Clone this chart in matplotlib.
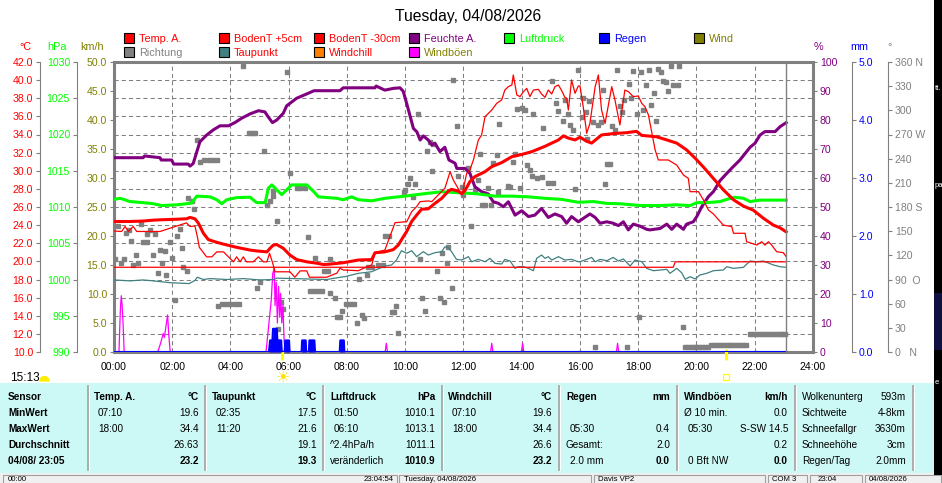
import numpy as np
import matplotlib
matplotlib.use("Agg")
import matplotlib.pyplot as plt
from matplotlib.patches import Rectangle, Wedge
import matplotlib.transforms as mtrans

plt.rcParams['font.family'] = ['Liberation Sans', 'DejaVu Sans']
plt.rcParams['lines.scale_dashes'] = False

# ---------------- data ----------------
title = "Tuesday, 04/08/2026"
now_t = 23 + 5 / 60
sunrise_t = 5 + 47 / 60
sunset_t = 21.0
day_length = "15:13"

hour_ticks = list(range(0, 25, 2))
hour_labels = ["%02d:00" % h for h in hour_ticks]

temp_ticks = list(range(10, 43, 2))
pres_ticks = list(range(990, 1031, 5))
kmh_ticks = list(range(0, 51, 5))
hum_ticks = list(range(0, 101, 10))
mm_ticks = [0, 1, 2, 3, 4, 5]
deg_ticks = list(range(0, 361, 30))
deg_labels = ["0   N", "30", "60", "90  O", "120", "150", "180 S", "210", "240",
              "270 W", "300", "330", "360 N"]

temp_t = [0, 0.55, 1.0, 1.35, 1.70, 2.15, 2.49, 2.61, 2.78, 2.90,
          3.07, 3.24, 3.53, 3.76, 4.21, 4.67, 4.90, 5.25, 5.36, 5.47,
          5.59, 5.81, 6.04, 6.27, 6.62, 6.96, 7.20, 7.42, 7.87, 8.39,
          8.85, 8.96, 9.30, 9.59, 9.76, 9.93, 10.05, 10.22, 10.39, 10.56,
          10.79, 11.02, 11.25, 11.48, 11.59, 11.82, 11.94, 12.05, 12.22, 12.39,
          12.74, 12.97, 13.31, 13.66, 14.00, 14.34, 14.80, 15.26, 15.43, 15.60,
          15.83, 16.00, 16.23, 16.40, 16.57, 16.74, 17.14, 17.60, 17.94, 18.12,
          18.63, 18.98, 19.32, 19.66, 19.95, 20.24, 20.58, 20.92, 21.27, 21.61,
          21.95, 22.30, 22.64, 22.87, 23.08]
temp_v = [24.4, 24.4, 24.45, 24.55, 24.6, 24.65, 24.7, 24.85, 24.7, 24.2,
          23.1, 22.4, 22.1, 21.9, 21.55, 21.25, 21.15, 21.05, 21.45, 21.8,
          21.85, 21.45, 20.7, 20.2, 19.95, 19.8, 19.65, 19.7, 19.85, 20.15,
          20.2, 20.95, 21.05, 21.3, 21.8, 22.7, 23.3, 24.4, 25.1, 25.75,
          25.8, 26.4, 26.95, 27.75, 27.95, 27.75, 27.45, 27.8, 28.8, 29.35,
          29.9, 30.45, 30.9, 31.55, 31.8, 32.1, 32.7, 33.4, 33.85, 33.6,
          33.4, 33.7, 33.25, 33.05, 33.5, 33.95, 34.1, 34.2, 34.35, 33.9,
          33.75, 33.4, 33.05, 32.3, 31.4, 30.4, 29.15, 27.9, 26.8, 26.1,
          25.65, 24.75, 24.0, 23.7, 23.25]

soil5_t = [0, 0.26, 0.38, 0.49, 0.66, 0.78, 1.58, 2.15, 2.49, 2.61,
           2.78, 2.86, 2.93, 3.18, 3.36, 3.53, 3.76, 3.93, 4.10, 4.21,
           4.33, 4.44, 4.55, 4.78, 4.96, 5.13, 5.25, 5.34, 5.45, 5.53,
           6.04, 6.21, 6.39, 6.62, 6.71, 7.30, 7.65, 7.76, 7.87, 8.39,
           8.56, 8.85, 8.96, 9.30, 9.65, 10.05, 10.22, 10.39, 10.51, 10.79,
           10.91, 11.13, 11.36, 11.54, 11.65, 11.88, 11.96, 12.11, 12.22, 12.34,
           12.51, 12.62, 12.74, 12.97, 13.14, 13.31, 13.42, 13.54, 13.66, 13.71,
           13.83, 13.94, 14.06, 14.17, 14.28, 14.40, 14.57, 14.68, 14.80, 14.91,
           15.03, 15.14, 15.26, 15.37, 15.48, 15.54, 15.60, 15.71, 15.83, 15.94,
           16.0, 16.11, 16.23, 16.34, 16.52, 16.63, 16.74, 16.86, 17.09, 17.20,
           17.37, 17.54, 17.66, 17.83, 18.00, 18.12, 18.23, 18.35, 18.46, 18.58,
           18.69, 19.03, 19.32, 19.55, 19.72, 19.78, 20.07, 20.24, 20.41, 20.58,
           20.92, 21.21, 21.27, 21.67, 21.72, 22.07, 22.24, 22.35, 22.47, 22.58,
           22.75, 22.98, 23.08]
soil5_v = [23.35, 23.3, 23.85, 23.3, 23.85, 23.3, 23.3, 23.9, 24.25, 23.85,
           23.9, 22.75, 21.55, 20.5, 20.5, 21.05, 21.05, 20.5, 19.95, 20.5,
           19.95, 20.5, 19.95, 19.95, 20.5, 19.95, 19.95, 20.9, 19.8, 18.85,
           18.85, 18.25, 18.95, 18.95, 18.25, 18.25, 18.7, 19.25, 19.05, 18.97,
           19.23, 19.6, 20.96, 21.25, 24.27, 24.38, 25.48, 26.04, 26.59, 26.67,
           26.59, 27.32, 28.06, 29.9, 28.98, 27.69, 27.51, 29.72, 30.09, 31.19,
           33.39, 33.94, 35.97, 36.7, 37.44, 37.81, 38.91, 39.28, 39.46, 40.57,
           38.36, 38.18, 38.73, 39.09, 38.18, 38.91, 38.98, 38.47, 38.1, 38.91,
           38.47, 39.28, 39.46, 38.84, 38.1, 37.99, 36.7, 40.02, 38.54, 39.35,
           39.35, 37.07, 34.13, 35.23, 39.28, 40.57, 36.7, 35.23, 39.28, 37.81,
           35.05, 38.91, 38.73, 38.18, 38.25, 37.44, 37.07, 36.15, 34.31, 32.29,
           31.19, 31.19, 30.63, 29.53, 29.16, 27.69, 27.69, 26.77, 25.67, 25.23,
           24.01, 23.83, 23.1, 23.1, 22.17, 21.8, 22.17, 21.8, 22.17, 21.8,
           21.07, 20.96, 20.52]

soil30_t = [0, 19.2, 19.27, 23.08]
soil30_v = [19.35, 19.35, 19.95, 19.95]

dew_t = [0, 0.55, 1.0, 1.35, 1.92, 2.58, 2.78, 2.86, 3.07, 3.30,
         3.87, 4.44, 5.01, 5.47, 5.59, 6.16, 6.73, 7.30, 7.87,
         7.93, 8.39, 8.85, 9.30, 9.53, 9.70, 9.87, 10.05, 10.22, 10.39,
         10.62, 10.79, 11.02, 11.25, 11.36, 11.48, 11.59, 11.76, 11.94, 12.17,
         12.28, 12.51, 12.74, 12.91, 13.08, 13.31, 13.42, 13.60, 13.77, 13.88,
         14.06, 14.23, 14.40, 14.51, 14.68, 14.80, 14.91, 15.03, 15.26, 15.48,
         15.71, 15.94,
         16.0, 16.23, 16.40, 16.52, 16.69, 16.92, 17.14, 17.32, 17.49, 17.72,
         17.89, 18.12, 18.29, 18.52, 18.98, 19.09, 19.32, 19.49, 19.61, 19.78,
         19.95, 20.12, 20.35, 20.58, 20.92, 21.04, 21.27, 21.61, 21.84, 22.07,
         22.30, 22.64, 22.87, 23.08]
dew_v = [17.95, 17.85, 17.95, 17.85, 17.65, 17.55, 17.9, 18.25, 18.0, 18.1,
         18.0, 18.1, 17.95, 18.0, 18.15, 18.1, 18.05, 18.0, 18.3,
         18.31, 18.68, 18.86, 19.49, 19.6, 20.15, 21.18, 20.89, 21.18, 20.52,
         21.07, 20.7, 20.96, 21.07, 21.6, 21.5, 21.07, 20.22, 20.15, 20.52,
         19.96, 20.22, 19.96, 20.33, 19.78, 19.71, 20.22, 20.04, 19.23, 19.41,
         19.41, 19.23, 18.97, 20.33, 20.7, 20.33, 20.52, 20.15, 20.52, 20.15,
         20.22, 19.96,
         19.96, 20.22, 20.44, 19.96, 20.22, 20.07, 20.44, 20.04, 20.26, 19.49,
         20.15, 19.96, 19.23, 18.97, 19.12, 18.68, 19.23, 18.75, 18.02, 18.31,
         18.06, 18.5, 18.68, 18.97, 19.05, 19.41, 19.23, 19.34, 20.04, 19.96,
         20.04, 19.6, 19.41, 19.35]

hum_t = [0, 1.0, 1.05, 1.58, 1.62, 1.98, 2.05, 2.55, 2.61, 2.72,
         2.86, 2.95, 3.18, 3.41, 3.64, 3.93, 4.15, 4.38, 4.67, 4.96,
         5.18, 5.30, 5.44, 5.59, 5.81, 5.93, 6.27, 6.62, 6.87, 7.76,
         7.87, 8.96, 9.0, 9.30, 9.59, 9.82, 9.93, 10.05, 10.28, 10.40,
         10.51, 10.62, 10.79, 10.91, 11.02, 11.19, 11.36, 11.50, 11.71, 11.77,
         12.05, 12.22, 12.39, 12.62, 12.85, 13.02, 13.19, 13.37, 13.54, 13.77,
         14.00, 14.23, 14.45, 14.68, 14.91, 15.14, 15.37, 15.54, 15.71, 15.94,
         16.34, 16.52, 16.69, 16.92, 17.14, 17.32, 17.49, 17.66, 17.83, 18.06,
         18.29, 18.40, 18.75, 18.98, 19.15, 19.32, 19.55, 19.66, 19.89, 20.01,
         20.18, 20.41, 20.58, 20.81, 21.04, 21.26, 21.49, 21.72, 21.84, 22.01,
         22.18, 22.35, 22.70, 22.87, 23.08]
hum_v = [67.0, 67.0, 67.6, 67.0, 66.2, 66.2, 64.8, 64.8, 64.1, 65.0,
         69.6, 72.5, 74.8, 76.6, 78.0, 78.0, 79.1, 80.6, 82.1, 83.2,
         82.8, 81.0, 79.1, 80.0, 82.3, 84.9, 87.5, 89.0, 90.1, 90.1,
         91.1, 91.1, 91.7, 90.3, 90.9, 91.1, 89.9, 85.7, 77.1, 75.9,
         73.1, 74.5, 73.1, 71.4, 72.0, 69.1, 70.6, 66.2, 65.1, 63.3,
         63.3, 61.6, 57.0, 55.3, 54.5, 51.8, 51.3, 50.1, 51.8, 47.2,
         48.7, 46.7, 47.2, 49.5, 46.4, 47.6, 46.7, 44.4, 46.7, 44.9,
         47.6, 46.4, 44.4, 44.9, 44.4, 43.6, 44.9, 42.1, 44.1, 43.4,
         42.3, 42.1, 42.6, 44.1, 42.3, 44.1, 42.3, 44.1, 44.9, 46.7,
         50.1, 53.6, 55.3, 59.1, 61.6, 63.9, 66.2, 69.1, 70.6, 72.0,
         74.8, 76.0, 76.0, 77.7, 79.1]

pres_t = [0, 0.21, 0.55, 1.0, 1.35, 1.64, 2.15, 2.49, 2.67, 2.84,
          3.30, 3.53, 3.70, 3.87, 4.21, 4.67, 4.90, 5.19, 5.30, 5.42,
          5.59, 5.76, 5.99, 6.10, 6.62, 6.85, 7.02, 7.65, 7.87, 8.16,
          8.39, 8.85, 9.30, 9.99, 10.79, 11.25, 11.94, 12.51, 13.08, 13.66,
          14.23, 14.80, 15.37, 15.94, 16.46, 16.92, 17.37, 18.06, 18.75, 19.32,
          19.78, 20.01, 20.35, 20.81, 21.04, 21.32, 21.61, 21.84, 22.18, 22.64,
          23.08]
pres_v = [1011.05, 1011.2, 1010.75, 1010.6, 1010.45, 1010.2, 1010.3, 1010.45, 1010.55, 1011.5,
          1011.4, 1011.0, 1010.45, 1011.0, 1011.3, 1011.35, 1010.6, 1010.6, 1012.6, 1013.05,
          1012.35, 1011.7, 1012.6, 1013.05, 1013.05, 1012.15, 1011.4, 1011.2, 1011.0, 1011.4,
          1011.0, 1010.85, 1011.2, 1011.5, 1011.9, 1012.1, 1011.95, 1011.8, 1011.5, 1011.5,
          1011.4, 1011.2, 1011.05, 1010.65, 1010.75, 1010.5, 1010.45, 1010.2, 1010.2, 1010.3,
          1010.2, 1010.6, 1010.6, 1010.75, 1011.05, 1011.35, 1011.2, 1010.75, 1010.95, 1010.95,
          1010.95]

rain_t = [0, 5.32, 5.36, 5.44, 5.46, 5.59, 5.61, 5.74, 5.76, 5.86,
          5.88, 6.01, 6.03, 6.44, 6.46, 6.58, 6.60, 6.69, 6.71, 6.88,
          6.90, 7.75, 7.77, 7.89, 7.91, 23.08]
rain_v = [0, 0, 0.2, 0.2, 0.4, 0.4, 0.2, 0.2, 0, 0,
          0.2, 0.2, 0, 0, 0.2, 0.2, 0, 0, 0.2, 0.2,
          0, 0, 0.2, 0.2, 0, 0]

wind_t = [0, 23.08]
wind_v = [0.0, 0.0]

gust_t = [0, 0.17, 0.22, 0.25, 0.28, 0.31, 0.35,
          1.50, 1.60, 1.69, 1.73, 1.80, 1.84, 1.88, 1.93,
          5.22, 5.28, 5.33, 5.40, 5.45, 5.50, 5.53, 5.57, 5.61, 5.65,
          5.69, 5.72, 5.76, 5.80, 5.84, 5.88,
          9.31, 9.35, 9.39, 12.93, 12.97, 13.01, 13.99, 14.03, 14.07,
          17.25, 17.29, 17.33, 23.08]
gust_v = [0, 0, 7.5, 9.7, 8.0, 5.0, 0,
          0, 1.5, 3.2, 2.5, 5.0, 6.4, 3.0, 0,
          0, 3.0, 5.5, 9.0, 13.5, 14.5, 8.0, 12.0, 5.0, 11.3,
          6.0, 10.1, 5.0, 8.1, 2.0, 0,
          0, 1.5, 0, 0, 1.5, 0, 0, 1.5, 0,
          0, 1.5, 0, 0]

dir_t = [0.03, 0.15, 0.23, 0.35, 0.41, 0.53, 0.57, 0.66, 0.76, 0.84,
         0.92, 0.98, 1.12, 1.14, 1.24, 1.35, 1.41, 1.52, 1.58, 1.66,
         1.75, 1.79, 1.92, 1.98, 2.09, 2.15, 2.27, 2.32, 2.38, 2.49,
         2.55, 2.67, 2.75, 2.86, 2.95, 3.10, 3.25, 3.40, 3.53, 3.58,
         3.70, 3.85, 4.00, 4.15, 4.30, 4.44, 4.62, 4.75, 4.85, 4.90,
         5.01, 5.15, 5.24, 5.36, 5.45, 5.47, 5.59, 5.64, 5.72, 5.81,
         5.93, 6.04, 6.27, 6.40, 6.56, 6.67, 6.73, 6.87, 6.90, 7.00,
         7.13, 7.20, 7.35, 7.42, 7.42, 7.59, 7.65, 7.76, 7.82, 7.95,
         8.10, 8.25, 8.33, 8.41, 8.50, 8.60, 8.67, 8.73, 8.87, 9.08,
         9.22, 9.31, 9.45, 9.53, 9.63, 9.67, 9.74, 9.94, 9.99, 10.08,
         10.16, 10.28, 10.33, 10.43, 10.51, 10.59, 10.68, 10.76, 10.85, 10.93,
         10.96, 11.08, 11.19, 11.25, 11.34, 11.42, 11.48, 11.59, 11.65, 11.77,
         11.82, 11.96, 11.99, 12.17, 12.26, 12.39, 12.51, 12.57, 12.65, 12.74,
         12.85, 12.94, 13.00, 13.14, 13.17, 13.22, 13.52, 13.60, 13.69, 13.77,
         13.83, 13.94, 14.00, 14.11, 14.17, 14.28, 14.34, 14.40, 14.52, 14.68,
         14.74, 14.91, 15.03, 15.09, 15.17, 15.26, 15.43, 15.48, 15.60, 15.66,
         15.77, 15.83, 15.94, 16.06, 16.09, 16.19, 16.25, 16.32, 16.44, 16.51,
         16.63, 16.71, 16.78, 16.86, 16.92, 17.03, 17.09, 17.20, 17.26, 17.37,
         17.43, 17.52, 17.60, 17.68, 17.75, 17.83, 17.94, 18.03, 18.09, 18.18,
         18.27, 18.37, 18.43, 18.54, 18.61, 18.67, 18.78, 18.84, 18.95, 19.01,
         19.11, 19.20, 19.35, 19.41, 19.52, 19.6, 19.7, 19.8, 19.9, 20.0,
         20.1, 20.2, 20.3, 20.4, 20.5, 20.6, 20.7, 20.8, 20.9, 21.0,
         21.1, 21.2, 21.3, 21.4, 21.5, 21.6, 21.7, 21.85, 21.95, 22.05,
         22.15, 22.25, 22.35, 22.45, 22.55, 22.65, 22.75, 22.85, 22.95, 23.05]
dir_d = [115, 157, 110, 115, 148, 151, 138, 108, 120, 111,
         159, 137, 147, 137, 151, 121, 147, 98, 127, 111,
         126, 96, 137, 117, 65, 144, 153, 129, 106, 101,
         191, 188, 178, 263, 236, 238, 238, 238, 238, 57,
         60, 60, 60, 60, 60, 355, 272, 272, 272, 79,
         87, 250, 183, 188, 194, 200, 163, 29, 62, 54,
         348, 222, 204, 204, 204, 143, 76, 76, 117, 76,
         76, 101, 101, 115, 73, 67, 44, 44, 51, 59,
         59, 59, 36, 91, 46, 42, 96, 106, 106, 108,
         108, 144, 144, 50, 50, 57, 24, 199, 201, 209,
         216, 193, 209, 295, 115, 67, 51, 250, 261, 225,
         258, 101, 67, 123, 62, 111, 130, 80, 338, 281,
         218, 205, 195, 228, 157, 201, 214, 246, 182, 182,
         204, 183, 235, 245, 199, 283, 206, 205, 236, 246,
         302, 204, 303, 301, 232, 226, 218, 295, 216, 217,
         278, 210, 337, 210, 309, 299, 287, 313, 295, 282,
         276, 202, 350, 292, 315, 298, 264, 312, 285, 6,
         282, 286, 325, 209, 234, 234, 281, 275, 350, 305,
         298, 313, 6, 333, 315, 349, 295, 43, 348, 300,
         331, 350, 307, 322, 287, 351, 347, 337, 335, 324,
         355, 331, 331, 355, 31, 6, 6, 6, 6, 6,
         6, 6, 6, 6, 9, 9, 9, 9, 9, 9,
         9, 9, 9, 9, 9, 9, 9, 22, 22, 22,
         22, 22, 22, 22, 22, 22, 22, 22, 22, 22]

legend_row1 = [("Temp. A.", "#ff0000", "#ff0000"), ("BodenT +5cm", "#ff0000", "#ff0000"),
               ("BodenT -30cm", "#ff0000", "#ff0000"), ("Feuchte A.", "#800080", "#800080"),
               ("Luftdruck", "#00ff00", "#00ff00"), ("Regen", "#0000ff", "#0000ff"),
               ("Wind", "#808000", "#808000")]
legend_row2 = [("Richtung", "#808080", "#808080"), ("Taupunkt", "#408080", "#ff0000"),
               ("Windchill", "#ff8000", "#ff0000"), ("Windböen", "#ff00ff", "#808000")]

tbl_headers = ["Temp. A.", "Taupunkt", "Luftdruck", "Windchill", "Regen", "Windböen"]
tbl_units = ["°C", "°C", "hPa", "°C", "mm", "km/h"]
tbl_rowlabels = ["Sensor", "MinWert", "MaxWert", "Durchschnitt", "04/08/ 23:05"]
tbl_cells = [
    [("07:10", "19.6"), ("18:00", "34.4"), ("", "26.63"), ("", "23.2")],
    [("02:35", "17.5"), ("11:20", "21.6"), ("", "19.1"), ("", "19.3")],
    [("01:50", "1010.1"), ("06:10", "1013.1"), ("^2.4hPa/h", "1011.1"), ("veränderlich", "1010.9")],
    [("07:10", "19.6"), ("18:00", "34.4"), ("", "26.6"), ("", "23.2")],
    [("", ""), ("05:30", "0.4"), ("Gesamt:", "2.0"), ("2.0 mm", "0.0")],
    [("Ø 10 min.", "0.0"), ("05:30", "S-SW 14.5"), ("", "0.2"), ("0 Bft NW", "0.0")],
]
tbl_extra = [("Wolkenunterg", "593m"), ("Sichtweite", "4-8km"), ("Schneefallgr", "3630m"),
             ("Schneehöhe", "3cm"), ("Regen/Tag", "2.0mm")]
status_texts = [("00:00", 8, "left"), ("23:04:54", 394, "right"), ("Tuesday, 04/08/2026", 404, "left"),
                ("Davis VP2", 598, "left"), ("COM 3", 772, "left"), ("23:04", 818, "left"),
                ("04/08/2026", 869, "left")]

# ---------------- colours ----------------
RED, PURPLE, GREEN, BLUE = "#ff0000", "#800080", "#00ff00", "#0000ff"
OLIVE, GREY, TEAL, MAGENTA = "#808000", "#808080", "#408080", "#ff00ff"
CYAN = "#ccf9f6"
YELLOW = "#ffee00"

# ---------------- figure ----------------
W, H = 942, 483
fig = plt.figure(figsize=(W / 100, H / 100), dpi=100)
bg = fig.add_axes([0, 0, 1, 1])
bg.set_xlim(0, W)
bg.set_ylim(H, 0)
bg.axis('off')

PL, PR, PT, PB = 114, 813, 62, 352
ax = fig.add_axes([PL / W, 1 - PB / H, (PR - PL) / W, (PB - PT) / H])
ax.set_xlim(0, 24)
ax.set_ylim(10, 42)


def make_axis(side, offset_px, lim, ticks, labels, color):
    a = ax.twinx()
    a.set_ylim(*lim)
    for s in a.spines.values():
        s.set_visible(False)
    if side == 'left':
        a.yaxis.tick_left()
    else:
        a.yaxis.tick_right()
    sp = a.spines[side]
    sp.set_position(('outward', offset_px * 0.72))
    sp.set_visible(offset_px > 0)
    sp.set_color(GREY)
    sp.set_linewidth(0.8)
    a.set_yticks(ticks)
    a.set_yticklabels(labels)
    a.tick_params(axis='y', which='both', direction='out', length=3, width=0.8,
                  color=GREY, labelcolor=color, labelsize=7.6, pad=2)
    a.patch.set_visible(False)
    return a


ax_d = make_axis('right', 75, (0, 360), deg_ticks, deg_labels, GREY)
ax_k = make_axis('left', 0, (0, 50), kmh_ticks, ["%.1f" % v for v in kmh_ticks], OLIVE)
ax_m = make_axis('right', 39, (0, 5), mm_ticks, ["%.1f" % v for v in mm_ticks], BLUE)
ax_h = make_axis('right', 0, (0, 100), hum_ticks, ["%d" % v for v in hum_ticks], PURPLE)
ax_p = make_axis('left', 37, (990, 1030), pres_ticks, ["%d" % v for v in pres_ticks], GREEN)
ax_c = make_axis('left', 74, (10, 42), temp_ticks, ["%.1f" % v for v in temp_ticks], RED)

# base axis: grid, frame, hour labels
ax.set_xticks(hour_ticks)
ax.set_xticklabels(hour_labels)
ax.set_yticks(temp_ticks)
ax.tick_params(axis='y', left=False, right=False, labelleft=False, labelright=False)
ax.tick_params(axis='x', length=0, pad=7, labelsize=7.6)
ax.grid(True, color=GREY, linestyle=(0, (3, 2.2)), linewidth=0.75)
for s in ax.spines.values():
    s.set_color(GREY)
    s.set_linewidth(2.2)

# series
ax_d.plot(dir_t, dir_d, ls='none', marker='s', ms=3.0, color=GREY, mec=GREY)
ax_k.plot(wind_t, wind_v, color=OLIVE, lw=1)
ax_k.plot(gust_t, gust_v, color=MAGENTA, lw=0.9)
ax_m.fill_between(rain_t, 0, rain_v, color=BLUE, lw=0)
ax_m.plot(rain_t, rain_v, color=BLUE, lw=1.5)
ax_h.plot(hum_t, hum_v, color=PURPLE, lw=2.2)
ax_p.plot(pres_t, pres_v, color=GREEN, lw=2.2)
ax_c.plot(dew_t, dew_v, color=TEAL, lw=0.9)
ax_c.plot(soil30_t, soil30_v, color=RED, lw=0.9)
ax_c.plot(soil5_t, soil5_v, color=RED, lw=0.9)
ax_c.plot(temp_t, temp_v, color=RED, lw=2.2)
ax_c.axvline(now_t, color=GREY, lw=1)

# sunrise / sunset markers
trans = mtrans.blended_transform_factory(ax.transData, ax.transAxes)
for t in (sunrise_t, sunset_t):
    ax.plot([t, t], [0.012, -0.028], transform=trans, color="#ffff00", lw=2.2,
            clip_on=False, zorder=10, solid_capstyle='butt')
ax.text(sunrise_t, -0.088, "\u2600", transform=trans, ha='center', va='center',
        color="#ffe000", fontsize=11.5, family='DejaVu Sans')
ax.plot([sunset_t], [-0.086], transform=trans, marker='s', ms=4, mfc='none',
        mec="#ffff00", mew=0.9, clip_on=False)

# ---------------- decorations in pixel space ----------------
bg.text(468, 20.5, title, ha='center', va='baseline', fontsize=11.3)

for i, (lab, bc, tc) in enumerate(legend_row1):
    x = 124 + 95 * i
    bg.add_patch(Rectangle((x, 32.7), 10, 10, facecolor=bc, edgecolor='black', lw=0.8))
    bg.text(x + 15, 41.5, lab, color=tc, fontsize=7.8, va='baseline')
for i, (lab, bc, tc) in enumerate(legend_row2):
    x = 124 + 95 * i
    bg.add_patch(Rectangle((x, 47.2), 10, 10, facecolor=bc, edgecolor='black', lw=0.8))
    bg.text(x + 15, 56.0, lab, color=tc, fontsize=7.8, va='baseline')

for txt, x, c in [("°C", 25, RED), ("hPa", 57.5, GREEN), ("km/h", 92, OLIVE),
                  ("%", 818, PURPLE), ("mm", 859, BLUE), ("°", 890, GREY)]:
    bg.text(x, 50.5, txt, color=c, ha='center', va='baseline', fontsize=7.8)

bg.text(10, 381, day_length, fontsize=8.5, va='baseline')
bg.add_patch(Wedge((44.5, 381), 4.5, 180, 360, color=YELLOW))

# table
bg.add_patch(Rectangle((0, 383), 934, 90, facecolor=CYAN, lw=0))
for x in [88, 205, 323, 442, 559, 677, 795, 913]:
    bg.plot([x, x], [386, 470], color="#a8a8a8", lw=1.3)
    bg.plot([x + 1.3, x + 1.3], [386, 470], color="white", lw=0.7)

rows_y = [400, 416, 432, 447.5, 463.5]
FS = 7.2
for j, lab in enumerate(tbl_rowlabels):
    bg.text(8, rows_y[j], lab, fontsize=FS, weight='bold', va='baseline')
col_x = [94, 212, 330, 448, 566, 684]
col_r = [199, 317, 435, 552, 670, 788]
for c in range(6):
    bg.text(col_x[c], rows_y[0], tbl_headers[c], fontsize=FS, weight='bold', va='baseline')
    bg.text(col_r[c], rows_y[0], tbl_units[c], fontsize=FS, weight='bold', va='baseline', ha='right')
    for j, (lt, rt) in enumerate(tbl_cells[c]):
        y = rows_y[j + 1]
        if lt:
            ind = 4 if lt[0].isdigit() else 0
            bg.text(col_x[c] + ind, y, lt, fontsize=FS, va='baseline')
        if rt:
            bg.text(col_r[c], y, rt, fontsize=FS, va='baseline', ha='right',
                    weight='bold' if j == 3 else 'normal')
for j, (lt, rt) in enumerate(tbl_extra):
    bg.text(802, rows_y[j], lt, fontsize=FS, va='baseline')
    bg.text(906, rows_y[j], rt, fontsize=FS, va='baseline', ha='right')

# status bar
bg.add_patch(Rectangle((0, 473), W, 10, facecolor="#f0f0f0", lw=0))
for x0, x1 in [(3, 397), (399, 591), (594, 765), (768, 807), (810, 862), (865, 941)]:
    bg.add_patch(Rectangle((x0, 475), x1 - x0, 12, facecolor="none", edgecolor="#a0a0a0", lw=0.8))
for txt, x, ha in status_texts:
    bg.text(x, 481.0, txt, fontsize=5.6, ha=ha, va='baseline')

# black screen edge at the right
bg.add_patch(Rectangle((934, 0), 8, 475, facecolor="black", lw=0))
bg.add_patch(Rectangle((934, 293), 8, 57, facecolor="#101040", lw=0))
for txt, y in [("tt.", 90), ("pa", 187), ("e", 384)]:
    bg.text(935, y, txt, color="white", fontsize=5.5, va='baseline')

fig.savefig("out.png", dpi=100)
